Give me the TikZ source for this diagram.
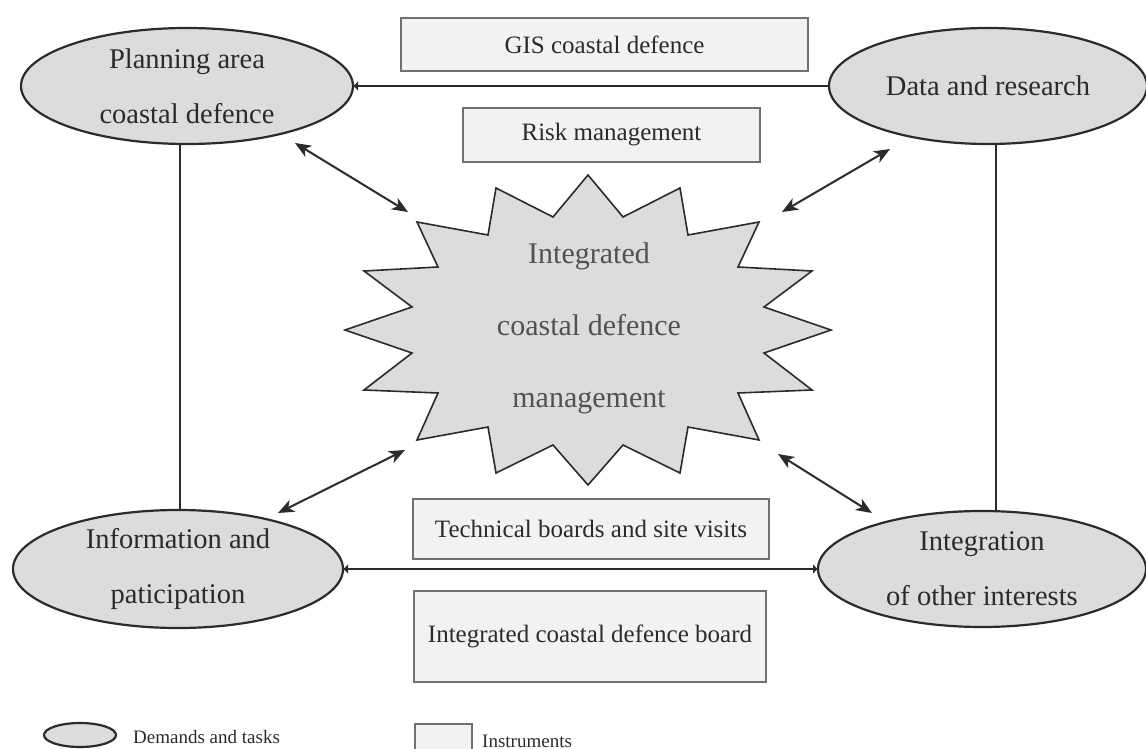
\documentclass[tikz,border=0pt]{standalone}
\usepackage{fontspec}
\setmainfont{Liberation Serif}
\usetikzlibrary{arrows.meta,shapes.geometric}
\definecolor{ellfill}{HTML}{DCDCDC}
\definecolor{boxfill}{HTML}{F2F2F2}
\definecolor{inkdark}{HTML}{2B2B2B}
\definecolor{boxline}{HTML}{707070}
\begin{document}
\begin{tikzpicture}[x=1pt,y=-1pt,
  task/.style={ellipse, draw=inkdark, line width=2.2pt, fill=ellfill, inner sep=0pt, outer sep=0pt,
    font=\fontsize{28.5}{55}\selectfont, align=center, text=inkdark},
  instr/.style={rectangle, draw=boxline, line width=1.6pt, fill=boxfill, inner sep=0pt, outer sep=0pt,
    font=\fontsize{25}{30}\selectfont, text=inkdark},
  link/.style={line width=2.6pt, draw=inkdark},
  blobtip/.tip={Latex[length=5pt,width=10pt]},
  dbl/.style={line width=2pt, draw=inkdark,
    {Stealth[length=16pt,width=13pt,inset=4.5pt]}-{Stealth[length=16pt,width=13pt,inset=4.5pt]}},
  legtext/.style={font=\fontsize{19}{22}\selectfont, text=inkdark, anchor=west, inner sep=0pt}]
\useasboundingbox (0,0) rectangle (1146,749);
\fill[white] (0,0) rectangle (1146,749);

% instruments
\node[instr, minimum width=407, minimum height=53] (gis) at (604.5,44.5) {GIS coastal defence};
\node[instr, minimum width=297, minimum height=54] (risk) at (611.5,135) {Risk management};
\node[instr, minimum width=356, minimum height=60] (tech) at (591,529) {Technical boards and site visits};
\node[instr, minimum width=352, minimum height=91] (icdb) at (590,636.5) {Integrated coastal defence board};

% demands and tasks
\node[task, minimum width=332, minimum height=116] (plan) at (187,86) {Planning area\\coastal defence};
\node[task, minimum width=318, minimum height=116] (data) at (988,86) {Data and research};
\node[task, minimum width=330, minimum height=118] (info) at (178,569) {Information and\\paticipation};
\node[task, minimum width=328, minimum height=116] (integ) at (982,569) {Integration\\of other interests};

% links between tasks
\draw[link, -blobtip] (data) -- (plan);
\draw[link, blobtip-blobtip] (info) -- (integ);
\draw[link] (info.north -| 180,0) -- (plan.south -| 180,0);
\draw[link] ([xshift=8pt]data.south) -- ([xshift=14pt]integ.north);

% central star
\draw[draw=inkdark, line width=1.6pt, fill=ellfill, line join=miter, shift={(588,330)}]
  (0,-155) -- (35,-113) -- (92,-142) -- (100,-95) -- (171,-108) -- (150,-63) -- (224,-59) -- (176,-23)
  -- (243,0) -- (176,23) -- (224,60) -- (150,63) -- (171,110) -- (100,97) -- (92,143) -- (35,115)
  -- (0,155) -- (-35,115) -- (-92,143) -- (-100,97) -- (-171,110) -- (-150,63) -- (-224,60) -- (-176,23)
  -- (-243,0) -- (-176,-23) -- (-224,-59) -- (-150,-63) -- (-171,-108) -- (-100,-95) -- (-92,-142) -- (-35,-113)
  -- cycle;
\node[font=\fontsize{30}{72}\selectfont, text=black!68, align=center] (core) at (589,328)
  {Integrated\\coastal defence\\management};

% arrows between tasks and the core
\coordinate (c1) at (408,212);
\coordinate (c2) at (782,212);
\coordinate (c3) at (405,450);
\coordinate (c4) at (778,454);
\coordinate (p1) at (295,143);
\coordinate (p2) at (890,149);
\coordinate (p3) at (278,513);
\coordinate (p4) at (872,513);
\draw[dbl] (p1) -- (c1);
\draw[dbl] (p2) -- (c2);
\draw[dbl] (p3) -- (c3);
\draw[dbl] (p4) -- (c4);

% legend
\node[task, minimum width=72, minimum height=24] (legell) at (80,735) {};
\node[legtext] (legelltext) at (133,737) {Demands and tasks};
\node[instr, minimum width=57, minimum height=27] (legbox) at (443.5,737.5) {};
\node[legtext] (legboxtext) at (482,741) {Instruments};
\end{tikzpicture}
\end{document}
